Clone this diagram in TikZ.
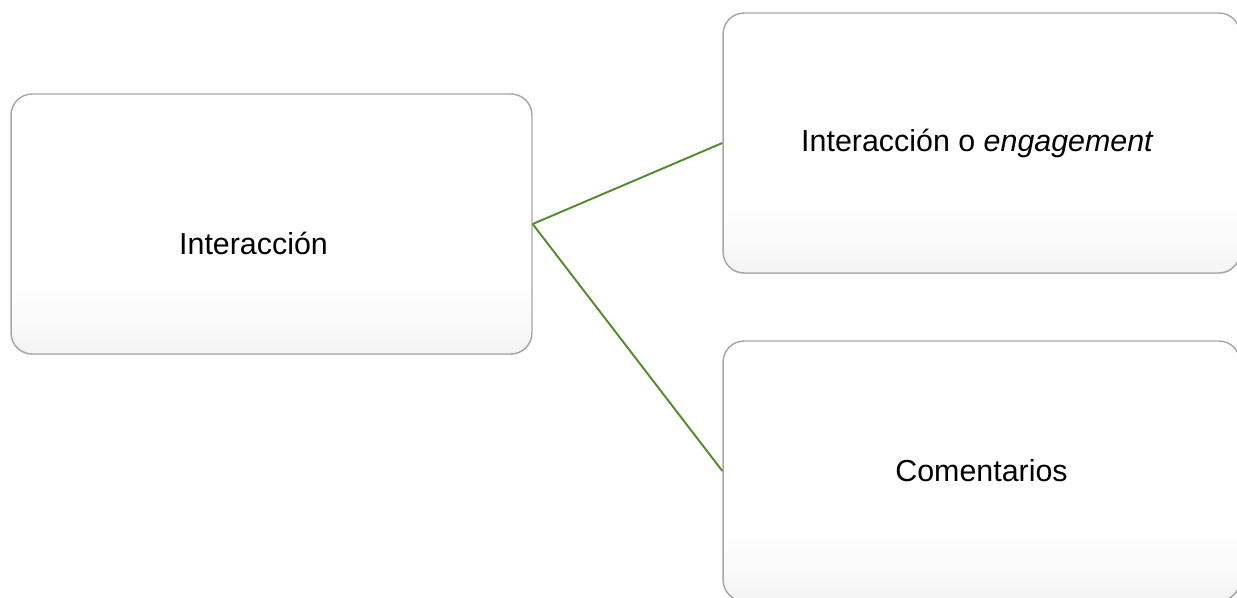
\documentclass[tikz,border=0pt]{standalone}
\usepackage{fontspec}
\setmainfont{Liberation Sans}
\usetikzlibrary{calc,shadows}

\definecolor{linkgreen}{RGB}{84,138,45}
% Light band at the bottom of each box.
\pgfdeclareverticalshading{boxshade}{100bp}{color(0bp)=(black!8); color(20bp)=(black!6); color(38bp)=(white); color(100bp)=(white)}

\tikzset{
	ibox/.style={rounded corners=0.42cm, draw=black!35, line width=0.8pt,
		shading=boxshade,
		minimum width=10.42cm, minimum height=5.2cm, inner sep=0pt,
		font=\fontsize{17.3}{21}\selectfont,
		drop shadow={shadow xshift=0pt, shadow yshift=-0.5pt, opacity=0.25}},
	link/.style={linkgreen, line width=1.1pt}
}

\begin{document}
\begin{tikzpicture}[x=0.02cm, y=-0.02cm]

	% Fix the page size.
	\useasboundingbox (0,0) rectangle (1237,598);
	\clip (0,0) rectangle (1237,598);

	% Draw boxes.
	\node[ibox, label={[font=\fontsize{17.3}{21}\selectfont, xshift=-0.36cm, yshift=-0.38cm]center:Interacción}] (inter) at (271.5, 224) {};
	\node[ibox, minimum width=10.34cm] (engage) at (981.5, 143) {\hspace*{-0.16cm}Interacción o \textit{engagement}};
	\node[ibox, minimum width=10.34cm] (coment) at (981.5, 471) {Comentarios};

	% Draw links.
	\draw[link] (inter.east) -- (engage.west);
	\draw[link] (inter.east) -- (coment.west);

\end{tikzpicture}
\end{document}
